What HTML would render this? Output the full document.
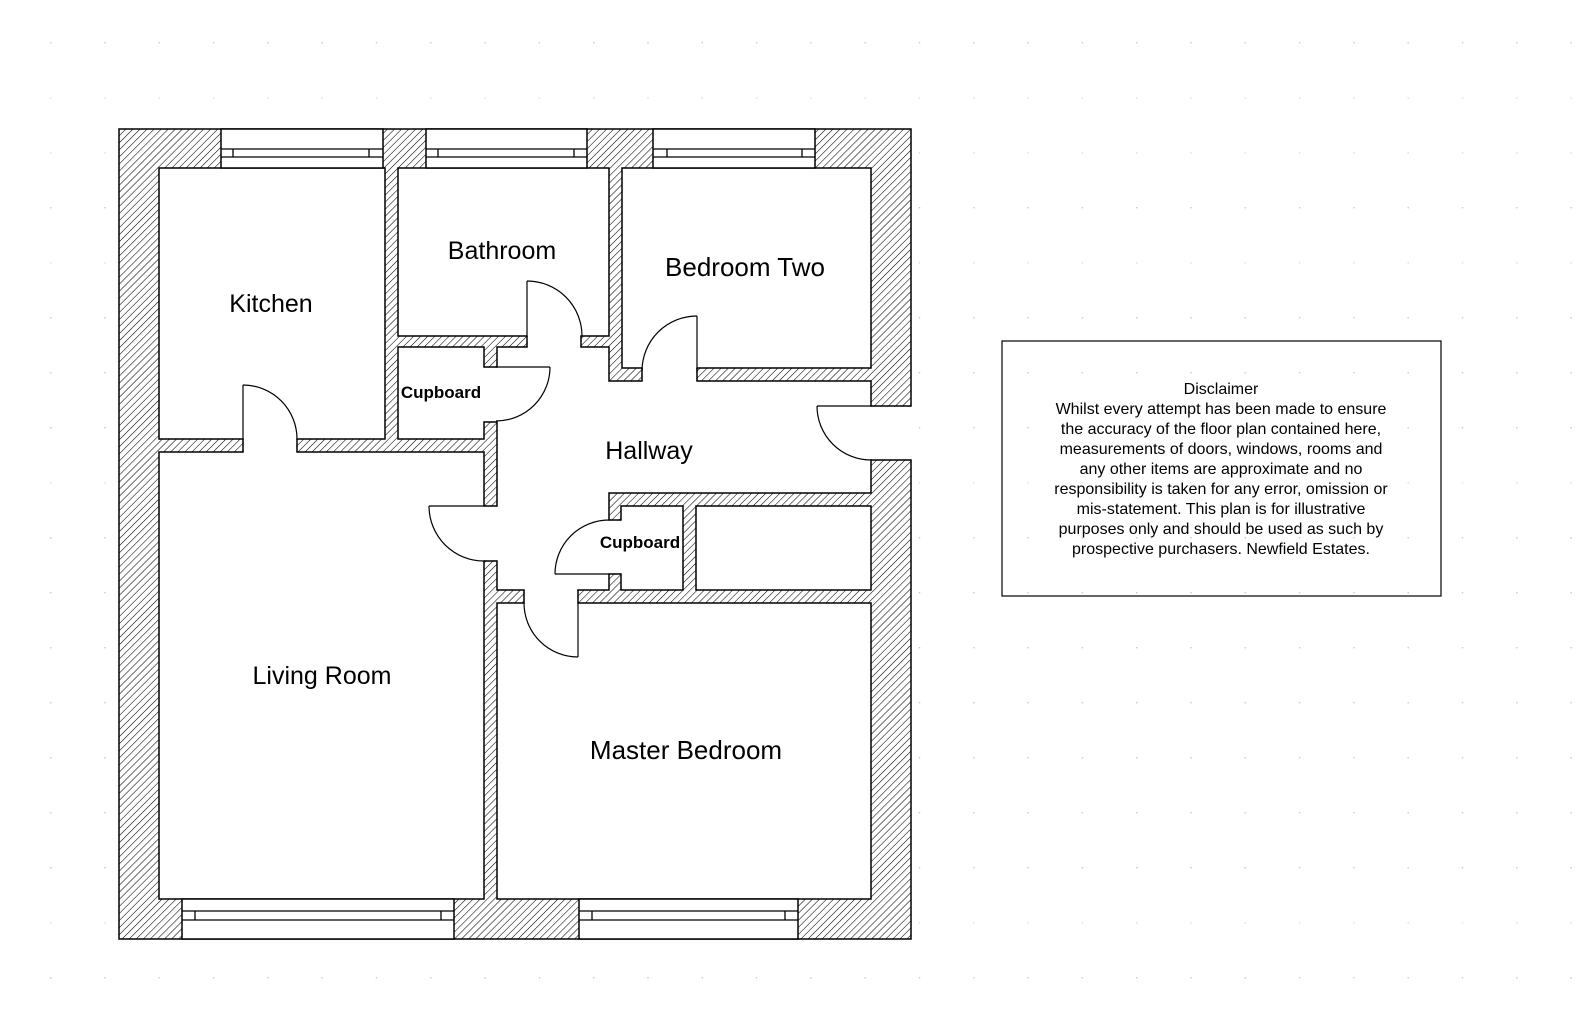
<!DOCTYPE html>
<html><head><meta charset="utf-8"><style>
html,body{margin:0;padding:0;background:#fff;}
svg{display:block;}
text{font-family:"Liberation Sans",Arial,sans-serif;fill:#000;}
</style></head><body>
<svg width="1586" height="1020" viewBox="0 0 1586 1020" xmlns="http://www.w3.org/2000/svg">
<defs>
<pattern id="h" width="5" height="5" patternUnits="userSpaceOnUse" patternTransform="rotate(45)">
<rect width="5" height="5" fill="#fff"/>
<line x1="0" y1="0" x2="0" y2="5" stroke="#000" stroke-width="1.1"/>
</pattern>
<pattern id="g" x="50" y="42" width="54.3" height="55" patternUnits="userSpaceOnUse">
<rect x="0" y="0" width="1.4" height="1.4" fill="#c8c8c8"/>
</pattern>
</defs>
<rect width="1586" height="1020" fill="url(#g)"/>

<rect x="119" y="129" width="792" height="810" fill="url(#h)" stroke="#000" stroke-width="1.5"/>

<g fill="#fff" stroke="#000" stroke-width="1.5">
<rect x="159" y="168" width="226" height="271"/>
<rect x="398" y="168" width="211" height="168"/>
<rect x="622" y="168" width="249" height="200"/>
<rect x="398" y="347" width="86" height="92"/>
<rect x="159" y="452" width="325" height="447"/>
<rect x="497" y="603" width="374" height="296"/>
<rect x="621" y="506" width="62" height="84"/>
<rect x="696" y="506" width="175" height="84"/>
<path d="M497 347 H609 V381 H871 V493 H609 V590 H497 Z"/>
</g>

<g fill="#fff" stroke="none">
<rect x="243.7" y="438" width="52.6" height="15"/>
<rect x="527.7" y="335" width="52.6" height="13"/>
<rect x="483" y="367.7" width="15" height="53.6"/>
<rect x="642.7" y="367" width="53.6" height="15"/>
<rect x="870" y="406.7" width="42" height="52.6"/>
<rect x="483" y="506.7" width="15" height="53.6"/>
<rect x="524.7" y="589" width="52.6" height="15"/>
<rect x="608" y="520.7" width="14" height="52.6"/>
</g>
<g stroke="#000" stroke-width="1.5" fill="none">
<path d="M297 439 V452 M527 336 V347 M581 336 V347 M484 367 H497 M484 422 H497 M642 368 V381 M697 368 V381 M871 406 H911 M871 460 H911 M484 506 H497 M484 561 H497 M524 590 V603 M578 590 V603 M609 520 H621 M609 574 H621 M243 439 V452"/>
</g>
<g stroke="#000" stroke-width="1.2" fill="none">
<path d="M243 439 V385"/><path d="M243 385 A54 54 0 0 1 297 439"/>
<path d="M527 336 V281"/><path d="M527 281 A55 55 0 0 1 582 336"/>
<path d="M496 367 H550"/><path d="M550 367 A54 54 0 0 1 496 421"/>
<path d="M697 372 V316"/><path d="M697 316 A55 55 0 0 0 642 371"/>
<path d="M871 406 H817"/><path d="M817 406 A54 54 0 0 0 871 460"/>
<path d="M484 506 H429"/><path d="M429 506 A55 55 0 0 0 484 561"/>
<path d="M578 603 V657"/><path d="M578 657 A54 54 0 0 1 524 603"/>
<path d="M609 574 H555"/><path d="M555 574 A54 54 0 0 1 609 520"/>
</g>

<g fill="#fff" stroke="#000" stroke-width="1.5">
<rect x="221" y="129" width="162" height="39"/>
<rect x="426" y="129" width="161" height="39"/>
<rect x="653" y="129" width="162" height="39"/>
<rect x="182" y="899" width="272" height="40"/>
<rect x="579" y="899" width="219" height="40"/>
</g>
<g stroke="#000" stroke-width="1.3" fill="none">
<path d="M221 149 H383 M221 157 H383 M233 149 V157 M369 149 V157"/>
<path d="M426 149 H587 M426 157 H587 M438 149 V157 M574 149 V157"/>
<path d="M653 149 H815 M653 157 H815 M667 149 V157 M802 149 V157"/>
<path d="M182 911 H454 M182 920 H454 M195 911 V920 M441 911 V920"/>
<path d="M579 911 H798 M579 920 H798 M592 911 V920 M785 911 V920"/>
</g>

<g font-size="25" text-anchor="middle">
<text x="271" y="312">Kitchen</text>
<text x="502" y="259">Bathroom</text>
<text x="745" y="276" font-size="26">Bedroom Two</text>
<text x="649" y="459">Hallway</text>
<text x="322" y="684">Living Room</text>
<text x="686" y="759" font-size="26">Master Bedroom</text>
</g>
<g font-size="17" font-weight="bold" text-anchor="middle">
<text x="441" y="398">Cupboard</text>
<text x="640" y="548">Cupboard</text>
</g>

<rect x="1002" y="341" width="439" height="255" fill="none" stroke="#000" stroke-width="1.2"/>
<g font-size="16" text-anchor="middle">
<text x="1221" y="394">Disclaimer</text>
<text x="1221" y="414">Whilst every attempt has been made to ensure</text>
<text x="1221" y="434">the accuracy of the floor plan contained here,</text>
<text x="1221" y="454">measurements of doors, windows, rooms and</text>
<text x="1221" y="474">any other items are approximate and no</text>
<text x="1221" y="494">responsibility is taken for any error, omission or</text>
<text x="1221" y="514">mis-statement. This plan is for illustrative</text>
<text x="1221" y="534">purposes only and should be used as such by</text>
<text x="1221" y="554">prospective purchasers. Newfield Estates.</text>
</g>
</svg>
</body></html>
